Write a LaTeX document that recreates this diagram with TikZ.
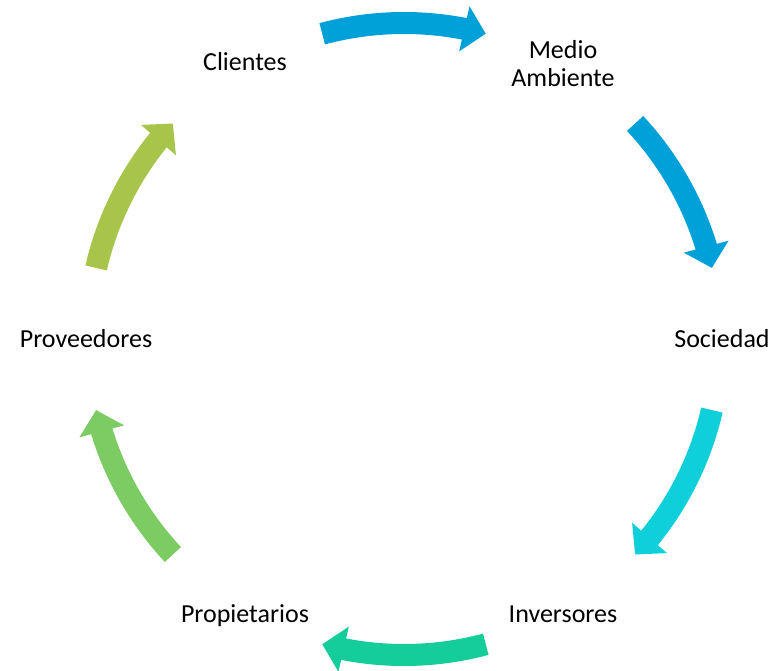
\documentclass[tikz,border=0pt]{standalone}
\usepackage{fontspec}
\setmainfont{Carlito}
\usetikzlibrary{arrows.meta,bending}
\definecolor{skyblue}{RGB}{0,160,216}
\definecolor{aquacyan}{RGB}{15,207,219}
\definecolor{seagreen}{RGB}{20,205,155}
\definecolor{leafgreen}{RGB}{125,203,99}
\definecolor{olivegreen}{RGB}{168,197,75}
\newcommand{\cyclearrow}[3]{%
  \draw [cycle arrow,
         draw = #1]   ([shift={(#2:316)}]hub)
                      arc [start angle = #2,
                           end angle   = #3,
                           radius      = 316];
}

\begin{document}
\begin{tikzpicture}[x=1pt, y=1pt,
          every node/.style = {font      = \fontsize{26}{28}\selectfont,
                              align     = center,
                              inner sep = 0pt,
                              outer sep = 0pt},
          cycle arrow/.style = {line width = 22pt,
                               -{Triangle[width=45pt, length=22pt, flex]}}]
  \useasboundingbox (-404,-331) rectangle (369,339);
  \coordinate (hub) at (0,0);

  \node [anchor = base] (clientes)     at (-159,268)  {Clientes};
  \node                 (medio)        at (159,275)   {Medio\\Ambiente};
  \node [anchor = base] (sociedad)     at (318,-8)    {Sociedad};
  \node [anchor = base] (inversores)   at (159,-283)  {Inversores};
  \node [anchor = base] (propietarios) at (-159,-283) {Propietarios};
  \node [anchor = base] (proveedores)  at (-318,-8)   {Proveedores};

  \cyclearrow{skyblue}{105}{75}
  \cyclearrow{skyblue}{43}{13}
  \cyclearrow{aquacyan}{-13}{-43}
  \cyclearrow{seagreen}{-75}{-105}
  \cyclearrow{leafgreen}{-137}{-167}
  \cyclearrow{olivegreen}{167}{137}
\end{tikzpicture}
\end{document}
